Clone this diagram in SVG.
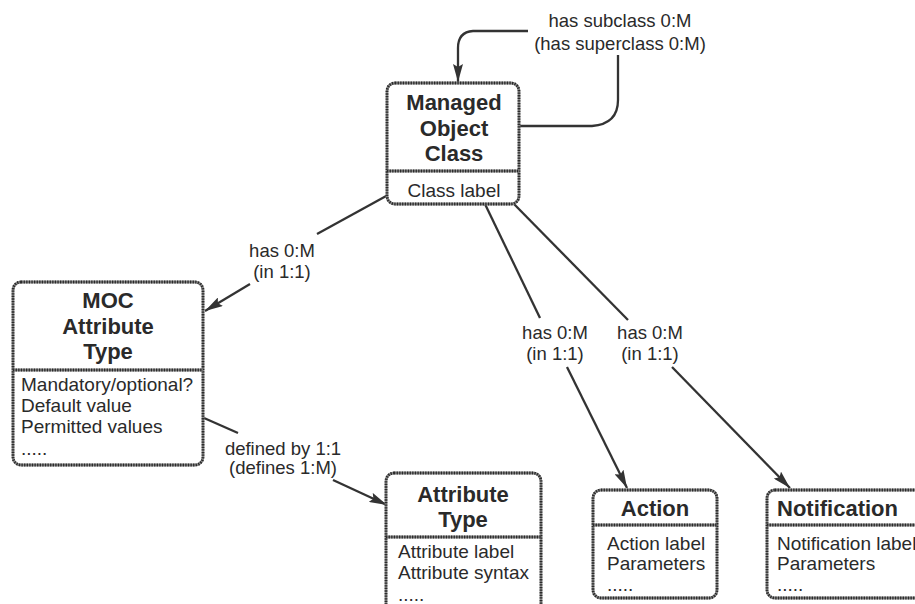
<svg xmlns="http://www.w3.org/2000/svg" width="915" height="604" viewBox="0 0 915 604">
  <defs>
    <marker id="arrow" markerUnits="userSpaceOnUse" markerWidth="19" markerHeight="10" refX="18" refY="5" orient="auto">
      <path d="M0,0 L18,5 L0,10 L3,5 z" fill="#333"/>
    </marker>
    <style>
      .box-base { fill: #fff; stroke: #8a8a8a; stroke-width: 2.8; }
      .box-dots { fill: none; stroke: #2a2a2a; stroke-width: 2.8; stroke-dasharray: 1.3 1.3; }
      .div-base { stroke: #8a8a8a; stroke-width: 2.8; }
      .div-dots { stroke: #2a2a2a; stroke-width: 2.8; stroke-dasharray: 1.3 1.3; }
      .title { font-family: "Liberation Sans", Arial, sans-serif; font-weight: bold; font-size: 22px; fill: #2a2a2a; text-anchor: middle; }
      .title-left { font-family: "Liberation Sans", Arial, sans-serif; font-weight: bold; font-size: 22px; fill: #2a2a2a; text-anchor: start; }
      .body { font-family: "Liberation Sans", Arial, sans-serif; font-size: 19px; fill: #2a2a2a; }
      .lbl { font-family: "Liberation Sans", Arial, sans-serif; font-size: 18.5px; fill: #2a2a2a; text-anchor: middle; }
      .conn { fill: none; stroke: #333; stroke-width: 2.3; }
    </style>
  </defs>
  <rect width="915" height="604" fill="#fff"/>

  <!-- connectors -->
  <g id="connectors">
    <!-- subclass / superclass self relation -->
    <path class="conn" d="M520,126 L592,126 Q618,124 618,100 L618,55"/>
    <path class="conn" d="M528,31 L473,31 Q458,32 458,48 L458,82" marker-end="url(#arrow)"/>
    <!-- class to MOC attribute type -->
    <path class="conn" d="M388,195 L317,234"/>
    <path class="conn" d="M250,284 L205,311" marker-end="url(#arrow)"/>
    <!-- MOC attribute type to attribute type -->
    <path class="conn" d="M204,418 L238,433"/>
    <path class="conn" d="M333,480 L387,505" marker-end="url(#arrow)"/>
    <!-- class to action -->
    <path class="conn" d="M484,202 L540,318"/>
    <path class="conn" d="M567,367 L627,488" marker-end="url(#arrow)"/>
    <!-- class to notification -->
    <path class="conn" d="M512,202 L628,320"/>
    <path class="conn" d="M672,367 L790,488" marker-end="url(#arrow)"/>

    <text class="lbl" x="620" y="27">has subclass 0:M</text>
    <text class="lbl" x="620" y="50">(has superclass 0:M)</text>
    <text class="lbl" x="282" y="257">has 0:M</text>
    <text class="lbl" x="282" y="278">(in 1:1)</text>
    <text class="lbl" x="283" y="455">defined by 1:1</text>
    <text class="lbl" x="283" y="474">(defines 1:M)</text>
    <text class="lbl" x="555" y="339">has 0:M</text>
    <text class="lbl" x="555" y="360">(in 1:1)</text>
    <text class="lbl" x="650" y="339">has 0:M</text>
    <text class="lbl" x="650" y="360">(in 1:1)</text>
  </g>

  <!-- Managed Object Class -->
  <g id="managed-object-class">
    <rect class="box-base" x="387" y="83" width="132" height="121" rx="8"/>
    <rect class="box-dots" x="387" y="83" width="132" height="121" rx="8"/>
    <line class="div-base" x1="387" y1="171" x2="519" y2="171"/>
    <line class="div-dots" x1="387" y1="171" x2="519" y2="171"/>
    <text class="title" x="454" y="110">Managed</text>
    <text class="title" x="454" y="136">Object</text>
    <text class="title" x="454" y="161">Class</text>
    <text class="body" x="454" y="197" text-anchor="middle">Class label</text>
  </g>

  <!-- MOC Attribute Type -->
  <g id="moc-attribute-type">
    <rect class="box-base" x="13" y="282" width="190" height="183" rx="8"/>
    <rect class="box-dots" x="13" y="282" width="190" height="183" rx="8"/>
    <line class="div-base" x1="13" y1="370" x2="203" y2="370"/>
    <line class="div-dots" x1="13" y1="370" x2="203" y2="370"/>
    <text class="title" x="108" y="308">MOC</text>
    <text class="title" x="108" y="334">Attribute</text>
    <text class="title" x="108" y="359">Type</text>
    <text class="body" x="21" y="391">Mandatory/optional?</text>
    <text class="body" x="21" y="412">Default value</text>
    <text class="body" x="21" y="433">Permitted values</text>
    <text class="body" x="21" y="455">.....</text>
  </g>

  <!-- Attribute Type -->
  <g id="attribute-type">
    <rect class="box-base" x="386" y="473" width="155" height="145" rx="8"/>
    <rect class="box-dots" x="386" y="473" width="155" height="145" rx="8"/>
    <line class="div-base" x1="386" y1="537" x2="541" y2="537"/>
    <line class="div-dots" x1="386" y1="537" x2="541" y2="537"/>
    <text class="title" x="463" y="502">Attribute</text>
    <text class="title" x="463" y="527">Type</text>
    <text class="body" x="398" y="558">Attribute label</text>
    <text class="body" x="398" y="579">Attribute syntax</text>
    <text class="body" x="398" y="601">.....</text>
  </g>

  <!-- Action -->
  <g id="action">
    <rect class="box-base" x="593" y="490" width="124" height="108" rx="8"/>
    <rect class="box-dots" x="593" y="490" width="124" height="108" rx="8"/>
    <line class="div-base" x1="593" y1="525" x2="717" y2="525"/>
    <line class="div-dots" x1="593" y1="525" x2="717" y2="525"/>
    <text class="title" x="655" y="516">Action</text>
    <text class="body" x="607" y="550">Action label</text>
    <text class="body" x="607" y="570">Parameters</text>
    <text class="body" x="607" y="591">.....</text>
  </g>

  <!-- Notification -->
  <g id="notification">
    <rect class="box-base" x="767" y="490" width="165" height="108" rx="8"/>
    <rect class="box-dots" x="767" y="490" width="165" height="108" rx="8"/>
    <line class="div-base" x1="767" y1="525" x2="932" y2="525"/>
    <line class="div-dots" x1="767" y1="525" x2="932" y2="525"/>
    <text class="title-left" x="777" y="516">Notification</text>
    <text class="body" x="777" y="550">Notification label</text>
    <text class="body" x="777" y="570">Parameters</text>
    <text class="body" x="777" y="591">.....</text>
  </g>
</svg>
